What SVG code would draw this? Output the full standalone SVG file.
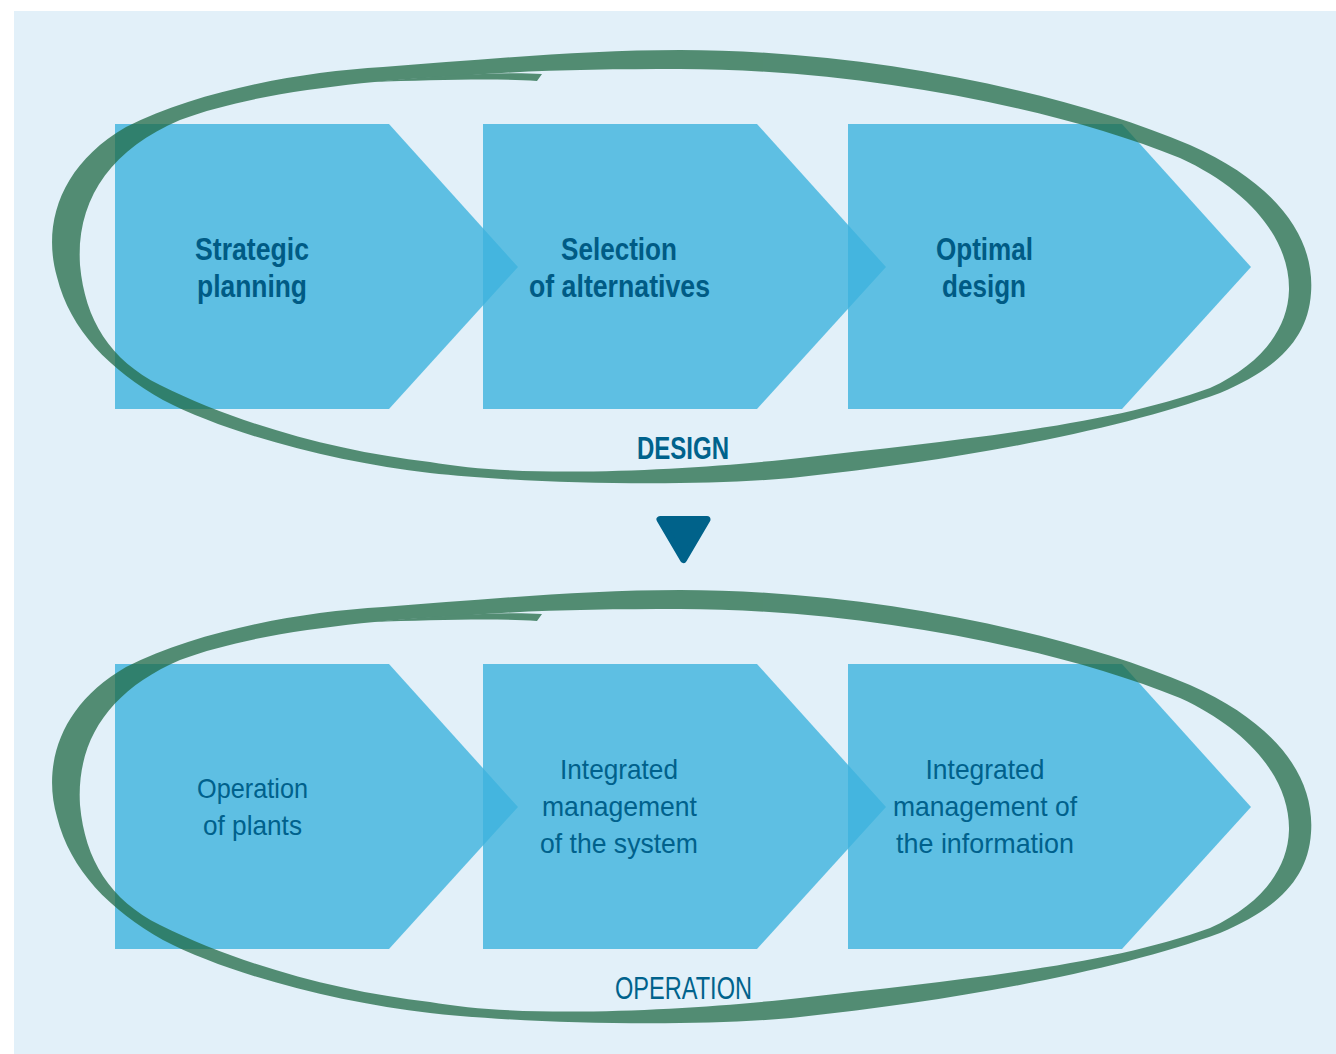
<svg xmlns="http://www.w3.org/2000/svg" xmlns:xlink="http://www.w3.org/1999/xlink" width="1336" height="1054" viewBox="0 0 1336 1054">
<style>
.box{fill:#3db3dd;fill-opacity:0.8}
.b{font-family:"Liberation Sans",Arial,sans-serif;font-weight:bold;font-size:32px;fill:#005b85;text-anchor:middle}
.r{font-family:"Liberation Sans",Arial,sans-serif;font-weight:normal;font-size:28px;fill:#00618c;text-anchor:middle}
.lbl{font-family:"Liberation Sans",Arial,sans-serif;fill:#00628c;text-anchor:middle}
</style>
<defs>
<g id="loop" fill="#226b46" opacity="0.75">
<path fill-rule="evenodd" d="M 680 50 C 860 50, 1060 90, 1190 145 C 1280 185, 1315 240, 1311 293 C 1308 340, 1275 370, 1220 393 C 1120 430, 960 460, 800 477 C 700 487.6, 530 484, 430 473 C 340 463, 230 435, 163 400 C 110 370, 70 330, 57 277 C 42 225, 60 165, 126 127 C 200 90, 300 72, 383 67 C 480 60, 580 50, 680 50 Z M 680 69 C 850 69, 1050 105, 1180 158 C 1250 190, 1290 240, 1289 290 C 1288 330, 1260 365, 1210 388 C 1110 425, 960 440, 800 458 C 700 469, 530 480, 430 462 C 340 452, 240 425, 160 385 C 110 360, 85 320, 80 265 C 76 200, 110 150, 180 120 C 260 90, 380 80, 460 76 C 530 70, 600 69, 680 69 Z"/>
<path d="M 370 82 C 430 77, 495 71, 542 74 L 537 81 C 495 78, 435 80, 370 82 Z"/>
</g>
</defs>
<rect x="14" y="11" width="1322" height="1043" fill="#e2f0f9"/>

<g id="node-strategic-planning">
<path class="box" d="M115 124 H389 L518 267 L389 409 H115 Z"/>
<text class="b" x="252" y="260" textLength="114" lengthAdjust="spacingAndGlyphs">Strategic</text>
<text class="b" x="252" y="297" textLength="110" lengthAdjust="spacingAndGlyphs">planning</text>
</g>
<g id="node-selection">
<path class="box" d="M483 124 H757 L886 267 L757 409 H483 Z"/>
<text class="b" x="619" y="260" textLength="116" lengthAdjust="spacingAndGlyphs">Selection</text>
<text class="b" x="619.5" y="297" textLength="181" lengthAdjust="spacingAndGlyphs">of alternatives</text>
</g>
<g id="node-optimal-design">
<path class="box" d="M848 124 H1122 L1251 267 L1122 409 H848 Z"/>
<text class="b" x="984.5" y="260" textLength="97" lengthAdjust="spacingAndGlyphs">Optimal</text>
<text class="b" x="984" y="297" textLength="84" lengthAdjust="spacingAndGlyphs">design</text>
</g>

<g id="node-operation-of-plants">
<path class="box" d="M115 664 H389 L518 807 L389 949 H115 Z"/>
<text class="r" x="252.5" y="798" textLength="111" lengthAdjust="spacingAndGlyphs">Operation</text>
<text class="r" x="252.5" y="835" textLength="99" lengthAdjust="spacingAndGlyphs">of plants</text>
</g>
<g id="node-integrated-system">
<path class="box" d="M483 664 H757 L886 807 L757 949 H483 Z"/>
<text class="r" x="619" y="779" textLength="118" lengthAdjust="spacingAndGlyphs">Integrated</text>
<text class="r" x="619.5" y="816" textLength="155" lengthAdjust="spacingAndGlyphs">management</text>
<text class="r" x="619" y="853" textLength="158" lengthAdjust="spacingAndGlyphs">of the system</text>
</g>
<g id="node-integrated-information">
<path class="box" d="M848 664 H1122 L1251 807 L1122 949 H848 Z"/>
<text class="r" x="985" y="779" textLength="119" lengthAdjust="spacingAndGlyphs">Integrated</text>
<text class="r" x="985" y="816" textLength="184" lengthAdjust="spacingAndGlyphs">management of</text>
<text class="r" x="985" y="853" textLength="178" lengthAdjust="spacingAndGlyphs">the information</text>
</g>

<g id="group-design">
<use xlink:href="#loop" href="#loop"/>
<text class="lbl" x="683" y="459" font-size="31" font-weight="bold" textLength="92" lengthAdjust="spacingAndGlyphs">DESIGN</text>
</g>
<g id="group-operation">
<use xlink:href="#loop" href="#loop" transform="translate(0,540)"/>
<text class="lbl" x="683.5" y="999" font-size="32" textLength="137" lengthAdjust="spacingAndGlyphs">OPERATION</text>
</g>

<g id="connectors">
<path d="M660 519.5 H707 L683.5 559.5 Z" fill="#00628a" stroke="#00628a" stroke-width="7" stroke-linejoin="round"/>
</g>
</svg>
